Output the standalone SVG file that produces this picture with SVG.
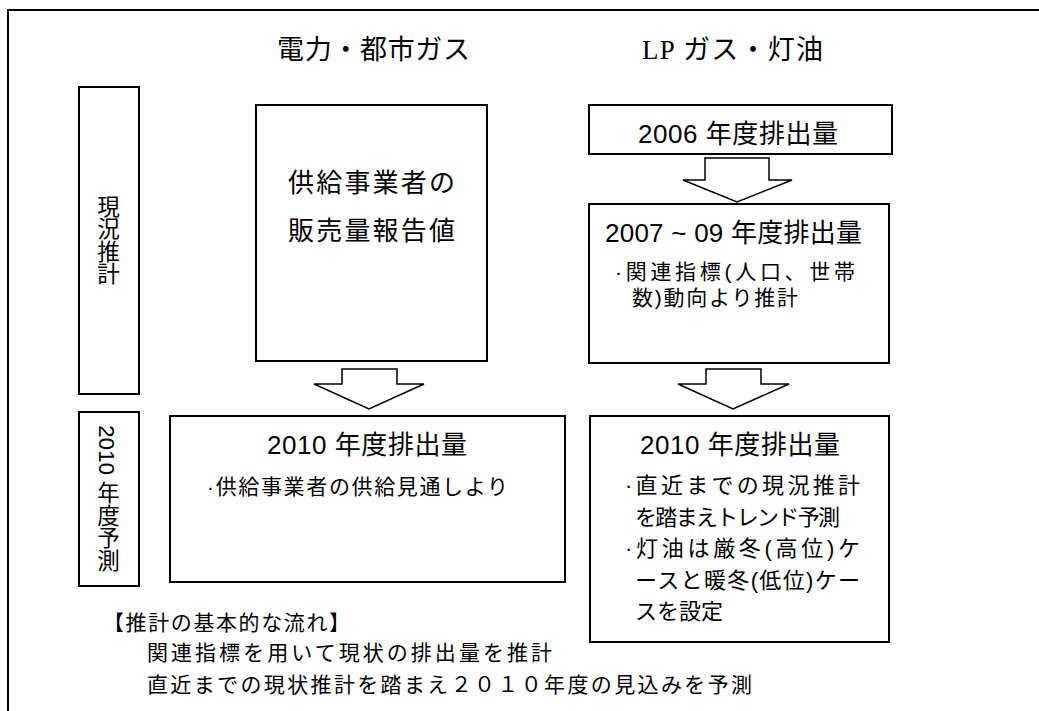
<svg xmlns="http://www.w3.org/2000/svg" width="1039" height="711" viewBox="0 0 1039 711">
<style>
.box{fill:#fff;stroke:#000;stroke-width:2}
.arr{fill:#fff;stroke:#000;stroke-width:1.5;stroke-linejoin:miter}
text{font-family:"Liberation Sans","Noto Sans CJK JP",sans-serif;fill:#000}
.t26{font-size:26px}
.t21{font-size:21px}
.t22{font-size:22px}
.ser{font-family:"Liberation Serif","Noto Sans CJK JP",serif}
.vert{writing-mode:vertical-rl;font-size:22.5px}
</style>
<rect width="1039" height="711" fill="#fff"/>
<path d="M8,711 V10 H1039" fill="none" stroke="#000" stroke-width="2"/>
<g id="title-left"><text x="277" y="59" font-size="27" textLength="193" lengthAdjust="spacing">電力・都市ガス</text></g>
<g id="title-right"><text class="ser" x="642" y="59" font-size="27" textLength="181" lengthAdjust="spacing">LP ガス・灯油</text></g>
<g id="label-current">
<rect class="box" x="79" y="87" width="60" height="307"/>
<text class="vert" x="106" y="195">現況推計</text>
</g>
<g id="label-forecast">
<rect class="box" x="79" y="412" width="60" height="174"/>
<text class="vert" x="106" y="425">2010 年度予測</text>
</g>
<g id="node-supplier">
<rect class="box" x="256" y="105" width="231" height="256"/>
<text class="t26" x="288" y="192" textLength="167" lengthAdjust="spacing">供給事業者の</text>
<text class="t26" x="288" y="240" textLength="167" lengthAdjust="spacing">販売量報告値</text>
</g>
<g id="node-2010-left">
<rect class="box" x="170" y="416" width="395" height="166"/>
<text class="t26" x="267" y="454" textLength="200" lengthAdjust="spacing">2010 年度排出量</text>
<text class="t21" x="207" y="494" textLength="301" lengthAdjust="spacing">·供給事業者の供給見通しより</text>
</g>
<g id="node-2006">
<rect class="box" x="589" y="105" width="303" height="49"/>
<text class="t26" x="638" y="143" textLength="200" lengthAdjust="spacing">2006 年度排出量</text>
</g>
<g id="node-2007">
<rect class="box" x="589" y="204" width="300" height="159"/>
<text class="t26" x="605" y="242" textLength="257" lengthAdjust="spacing">2007 ~ 09 年度排出量</text>
<text class="t21" x="615" y="279" textLength="240" lengthAdjust="spacing">·関連指標(人口、世帯</text>
<text class="t21" x="632" y="305" textLength="166" lengthAdjust="spacing">数)動向より推計</text>
</g>
<g id="node-2010-right">
<rect class="box" x="590" y="416" width="299" height="226"/>
<text class="t26" x="640" y="454" textLength="200" lengthAdjust="spacing">2010 年度排出量</text>
<text class="t22" x="625" y="493" textLength="235" lengthAdjust="spacing">·直近までの現況推計</text>
<text class="t22" x="635" y="525" textLength="205" lengthAdjust="spacing">を踏まえトレンド予測</text>
<text class="t22" x="625" y="556" textLength="235" lengthAdjust="spacing">·灯油は厳冬(高位)ケ</text>
<text class="t22" x="635" y="588" textLength="225" lengthAdjust="spacing">ースと暖冬(低位)ケー</text>
<text class="t22" x="635" y="619" textLength="88" lengthAdjust="spacing">スを設定</text>
</g>
<g id="connectors">
<polygon class="arr" points="705,158 769,158 769,180 792,180 737,202 683,180 705,180"/>
<polygon class="arr" points="706,369 761,369 761,384 789,384 733,409 678,384 706,384"/>
<polygon class="arr" points="342,369 397,369 397,384 424,384 369,409 314,384 342,384"/>
</g>
<g id="note">
<text class="t21" x="103" y="630" textLength="247" lengthAdjust="spacing">【推計の基本的な流れ】</text>
<text class="t21" x="147" y="660" textLength="405" lengthAdjust="spacing">関連指標を用いて現状の排出量を推計</text>
<text class="t21" x="147" y="692" textLength="605" lengthAdjust="spacing">直近までの現状推計を踏まえ２０１０年度の見込みを予測</text>
</g>
</svg>
